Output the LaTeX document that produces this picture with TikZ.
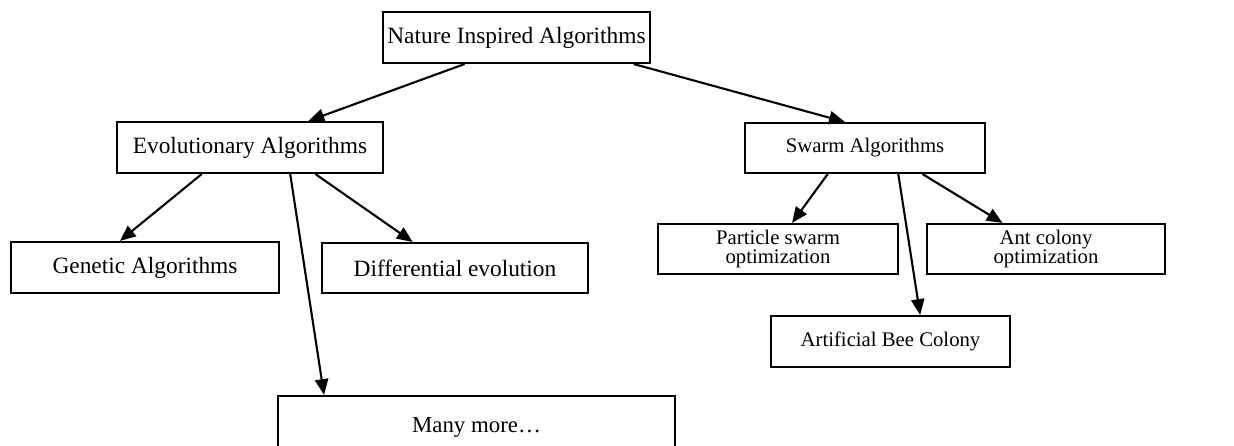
\documentclass[tikz,border=0pt]{standalone}
\usepackage{fontspec}
\setmainfont{Liberation Serif}
\usetikzlibrary{arrows.meta,calc}
\tikzset{
  box/.style={draw=black, line width=1.2pt, fill=white, inner sep=0pt, align=center},
  big/.style={font=\fontsize{13.3}{14}\selectfont},
  small/.style={font=\fontsize{11.8}{11.1}\selectfont},
  conn/.style={line width=1.2pt, -{Triangle[length=9pt,width=7.5pt]}}
}
\begin{document}
\begin{tikzpicture}[x=0.02cm,y=-0.02cm]
\clip (0,0) rectangle (1234,446);
\useasboundingbox (0,0) rectangle (1234,446);
\fill[white] (0,0) rectangle (1234,446);
% nodes
\node[box,big,minimum width=267*0.02cm,minimum height=51*0.02cm] (nature) at (516.5,37.5) {\raisebox{-2pt}{Nature Inspired Algorithms}};
\node[box,big,minimum width=266*0.02cm,minimum height=51*0.02cm] (evo) at (250,147.5) {\raisebox{-1pt}{Evolutionary Algorithms}};
\node[box,big,minimum width=268*0.02cm,minimum height=51*0.02cm] (gen) at (145,267.5) {Genetic Algorithms};
\node[box,big,minimum width=266*0.02cm,minimum height=50*0.02cm] (diff) at (455,268) {Differential evolution};
\node[box,font=\fontsize{13}{14}\selectfont,minimum width=397*0.02cm,minimum height=62*0.02cm] (many) at (476.5,427) {Many more…};
\node[box,small,minimum width=240*0.02cm,minimum height=50*0.02cm] (swarm) at (865,148) {Swarm Algorithms};
\node[box,small,minimum width=240*0.02cm,minimum height=50*0.02cm] (pso) at (778,249) {\raisebox{-1.5pt}{\parbox{3cm}{\centering Particle swarm\\optimization}}};
\node[box,small,minimum width=238*0.02cm,minimum height=50*0.02cm] (aco) at (1046,249) {\raisebox{-1.5pt}{\parbox{3cm}{\centering Ant colony\\optimization}}};
\node[box,small,minimum width=239*0.02cm,minimum height=51*0.02cm] (abc) at (890.5,341.5) {Artificial Bee Colony};
% connectors
\draw[conn] ($(nature.south west)!0.307!(nature.south east)$) -- ($(evo.north west)!0.718!(evo.north east)$);
\draw[conn] ($(nature.south west)!0.936!(nature.south east)$) -- ($(swarm.north west)!0.417!(swarm.north east)$);
\draw[conn] ($(evo.south west)!0.32!(evo.south east)$) -- ($(gen.north west)!0.407!(gen.north east)$);
\draw[conn] ($(evo.south west)!0.744!(evo.south east)$) -- ($(diff.north west)!0.342!(diff.north east)$);
\draw[conn] ($(evo.south west)!0.65!(evo.south east)$) -- ($(many.north west)!0.118!(many.north east)$);
\draw[conn] ($(swarm.south west)!0.346!(swarm.south east)$) -- ($(pso.north west)!0.558!(pso.north east)$);
\draw[conn] ($(swarm.south west)!0.6375!(swarm.south east)$) -- ($(abc.north west)!0.623!(abc.north east)$);
\draw[conn] ($(swarm.south west)!0.7375!(swarm.south east)$) -- ($(aco.north west)!0.319!(aco.north east)$);
\end{tikzpicture}
\end{document}
